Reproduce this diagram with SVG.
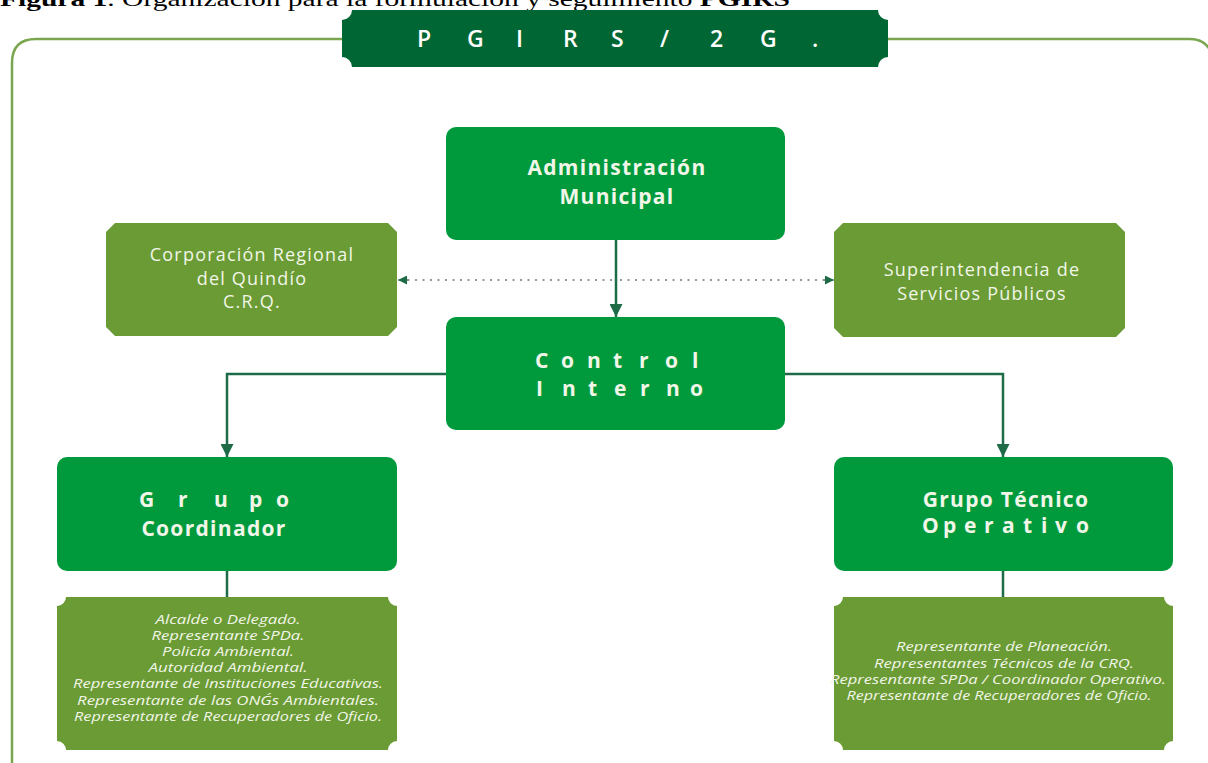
<svg xmlns="http://www.w3.org/2000/svg" width="1208" height="763" viewBox="0 0 1208 763">
<style>
.green{fill:#009a3d}
.olive{fill:#6b9b35}
.t{font-family:"Open Sans","Noto Sans",sans-serif;fill:#f1f6e8;text-anchor:middle}
.b{font-weight:bold;font-size:21px;letter-spacing:1.3px}
.r{font-size:18px;letter-spacing:1.2px}
.i{font-style:italic;font-size:12.5px}
.ls{text-anchor:start;letter-spacing:0}
.con{fill:none;stroke:#1e6b47;stroke-width:2.5}
.dot{fill:none;stroke:#8d9b96;stroke-width:2;stroke-dasharray:2 5.5}
</style>
<defs>
<marker id="ah" viewBox="0 0 12 12" refX="12" refY="6" markerWidth="13" markerHeight="13" markerUnits="userSpaceOnUse" orient="auto">
<path d="M0,0 L12,6 L0,12 Z" fill="#1e6b47"/>
</marker>
<marker id="ahs" viewBox="0 0 10 10" refX="10" refY="5" markerWidth="9" markerHeight="9" markerUnits="userSpaceOnUse" orient="auto">
<path d="M0,0 L10,5 L0,10 Z" fill="#1e6b47"/>
</marker>
</defs>
<rect width="1208" height="763" fill="#ffffff"/>
<text x="0" y="5.5" font-family="Liberation Serif" font-size="22" fill="#000" textLength="790" lengthAdjust="spacingAndGlyphs"><tspan font-weight="bold">Figura 1</tspan>. Organización para la formulación y seguimiento <tspan font-weight="bold">PGIRS</tspan></text>
<path id="frame" d="M12,763 V63 Q12,39 36,39 H1190 Q1204,39 1210,50" fill="none" stroke="#7aa64f" stroke-width="2.5"/>
<g id="banner">
<path d="M352,10 H878 A10,10 0 0 0 888,20 V57 A10,10 0 0 0 878,67 H352 A10,10 0 0 0 342,57 V20 A10,10 0 0 0 352,10 Z" fill="#006633"/>
<text x="417 467 516 563 611 660 710 760 812" y="46.5" font-family="'Open Sans','Noto Sans',sans-serif" font-size="23" font-weight="600" fill="#ffffff">PGIRS/2G.</text>
</g>
<g id="connectors">
<path class="con" d="M616,240 V317" marker-end="url(#ah)"/>
<path class="con" d="M446,374 H227 V457" marker-end="url(#ah)"/>
<path class="con" d="M784,374 H1003 V457" marker-end="url(#ah)"/>
<path class="con" d="M227,571 V597"/>
<path class="con" d="M1003,571 V597"/>
<path class="dot" d="M612,280 H406"/>
<path class="dot" d="M620,280 H826"/>
<path d="M408,280 H398" stroke="#1e6b47" stroke-width="1" marker-end="url(#ahs)"/>
<path d="M824,280 H834" stroke="#1e6b47" stroke-width="1" marker-end="url(#ahs)"/>
</g>
<g id="admin">
<rect class="green" x="446" y="127" width="339" height="113" rx="10"/>
<text class="t b" x="617" y="175">Administración</text>
<text class="t b" x="617" y="204">Municipal</text>
</g>
<g id="crq">
<path class="olive" d="M115,223 H388 L397,232 V327 L388,336 H115 L106,327 V232 Z"/>
<text class="t r" x="252" y="261">Corporación Regional</text>
<text class="t r" x="252" y="285">del Quindío</text>
<text class="t r" x="252" y="308">C.R.Q.</text>
</g>
<g id="ssp">
<path class="olive" d="M843,223 H1116 L1125,232 V328 L1116,337 H843 L834,328 V232 Z"/>
<text class="t r" x="982" y="276">Superintendencia de</text>
<text class="t r" x="982" y="300">Servicios Públicos</text>
</g>
<g id="control">
<rect class="green" x="446" y="317" width="339" height="113" rx="10"/>
<text class="t b ls" x="535 561 587 613 639 665 692" y="368">Control</text>
<text class="t b ls" x="536 562 588 614 640 666 690" y="396">Interno</text>
</g>
<g id="coordinador">
<rect class="green" x="57" y="457" width="340" height="114" rx="10"/>
<text class="t b ls" x="139 178 214 249 276" y="507">Grupo</text>
<text class="t b" x="214" y="536">Coordinador</text>
</g>
<g id="tecnico">
<rect class="green" x="834" y="457" width="339" height="114" rx="10"/>
<text class="t b" x="1006" y="507">Grupo Técnico</text>
<text class="t b ls" x="922 943 964 984 1002 1023 1041 1055 1076" y="533">Operativo</text>
</g>
<g id="lista-coordinador">
<path class="olive" d="M66,597 H388 A9,9 0 0 0 397,606 V741 A9,9 0 0 0 388,750 H66 A9,9 0 0 0 57,741 V606 A9,9 0 0 0 66,597 Z"/>
<text class="t i" x="228" y="624" textLength="145" lengthAdjust="spacingAndGlyphs">Alcalde o Delegado.</text>
<text class="t i" x="228" y="640" textLength="153" lengthAdjust="spacingAndGlyphs">Representante SPDa.</text>
<text class="t i" x="228" y="656" textLength="132" lengthAdjust="spacingAndGlyphs">Policía Ambiental.</text>
<text class="t i" x="228" y="672" textLength="159" lengthAdjust="spacingAndGlyphs">Autoridad Ambiental.</text>
<text class="t i" x="228" y="688" textLength="310" lengthAdjust="spacingAndGlyphs">Representante de Instituciones Educativas.</text>
<text class="t i" x="228" y="705" textLength="302" lengthAdjust="spacingAndGlyphs">Representante de las ONG´s Ambientales.</text>
<text class="t i" x="228" y="721" textLength="308" lengthAdjust="spacingAndGlyphs">Representante de Recuperadores de Oficio.</text>
</g>
<g id="lista-tecnico">
<path class="olive" d="M843,597 H1164 A9,9 0 0 0 1173,606 V741 A9,9 0 0 0 1164,750 H843 A9,9 0 0 0 834,741 V606 A9,9 0 0 0 843,597 Z"/>
<text class="t i" x="1004" y="651" textLength="216" lengthAdjust="spacingAndGlyphs">Representante de Planeación.</text>
<text class="t i" x="1004" y="668" textLength="260" lengthAdjust="spacingAndGlyphs">Representantes Técnicos de la CRQ.</text>
<text class="t i" x="998" y="684" textLength="336" lengthAdjust="spacingAndGlyphs">Representante SPDa / Coordinador Operativo.</text>
<text class="t i" x="999" y="700" textLength="305" lengthAdjust="spacingAndGlyphs">Representante de Recuperadores de Oficio.</text>
</g>
</svg>
